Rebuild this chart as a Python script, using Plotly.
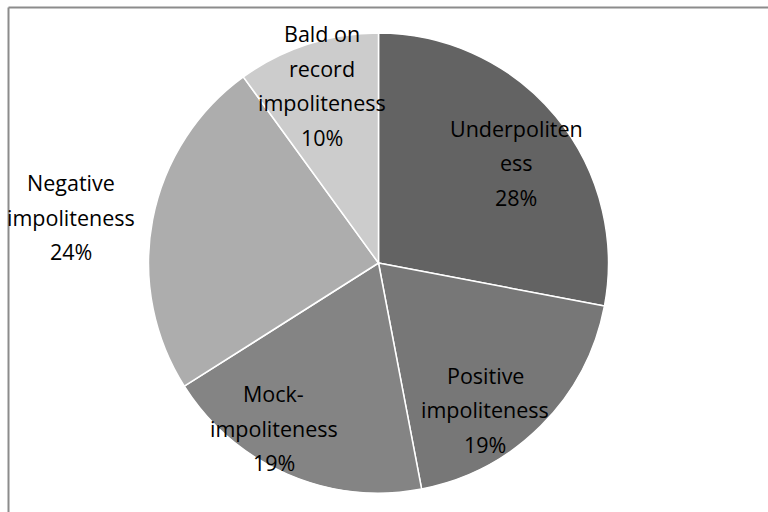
import math
import plotly.graph_objects as go

categories = ["Underpoliteness", "Positive impoliteness", "Mock-impoliteness",
              "Negative impoliteness", "Bald on record impoliteness"]
values = [28, 19, 19, 24, 10]
label_lines = [["Underpoliten", "ess"], ["Positive", "impoliteness"], ["Mock-", "impoliteness"],
               ["Negative", "impoliteness"], ["Bald on", "record", "impoliteness"]]
colors = ["#636363", "#777777", "#848484", "#adadad", "#cccccc"]

W, H = 768, 512
cx, cy, R = 378.5, 263.0, 230.0
LINE_H = 34.5
FONT_SIZE = 21.5

# label placement (style): radial factor and angular nudge in degrees
label_r = [0.74, 0.79, 0.85, 1.35, 0.81]
label_da = [3.5, 9.0, 9.0, -2.3, 0.4]

fig = go.Figure(go.Pie(
    labels=categories, values=values, sort=False, direction="clockwise",
    rotation=0, marker=dict(colors=colors, line=dict(color="white", width=1.5)),
    textinfo="none", hoverinfo="label+percent", showlegend=False,
    domain=dict(x=[(cx - R) / W, (cx + R) / W], y=[1 - (cy + R) / H, 1 - (cy - R) / H]),
))

total = sum(values)
cum = 0
annotations = []
for name, v, lines, rf, da in zip(categories, values, label_lines, label_r, label_da):
    mid = (cum + v / 2) / total * 360 + da
    cum += v
    px = cx + rf * R * math.sin(math.radians(mid))
    py = cy - rf * R * math.cos(math.radians(mid))
    pct = round(v / total * 100)
    all_lines = lines + [f"{pct}%"]
    n = len(all_lines)
    for i, t in enumerate(all_lines):
        ly = py + (i - (n - 1) / 2) * LINE_H
        annotations.append(dict(
            x=px / W, y=1 - ly / H, xref="paper", yref="paper",
            text=t, showarrow=False, align="center",
            xanchor="center", yanchor="middle",
            font=dict(family="Open Sans", size=FONT_SIZE, color="#000000"),
        ))

shapes = [
    dict(type="line", xref="paper", yref="paper", x0=8.5 / W, x1=1, y0=1 - 7.5 / H, y1=1 - 7.5 / H,
         line=dict(color="#8c8c8c", width=2)),
    dict(type="line", xref="paper", yref="paper", x0=8.5 / W, x1=8.5 / W, y0=0, y1=1 - 7.5 / H,
         line=dict(color="#8c8c8c", width=2)),
]

fig.update_layout(
    width=W, height=H, margin=dict(l=0, r=0, t=0, b=0),
    paper_bgcolor="white", plot_bgcolor="white",
    annotations=annotations, shapes=shapes,
    font=dict(family="Open Sans"),
)

fig.write_html("out.html")
